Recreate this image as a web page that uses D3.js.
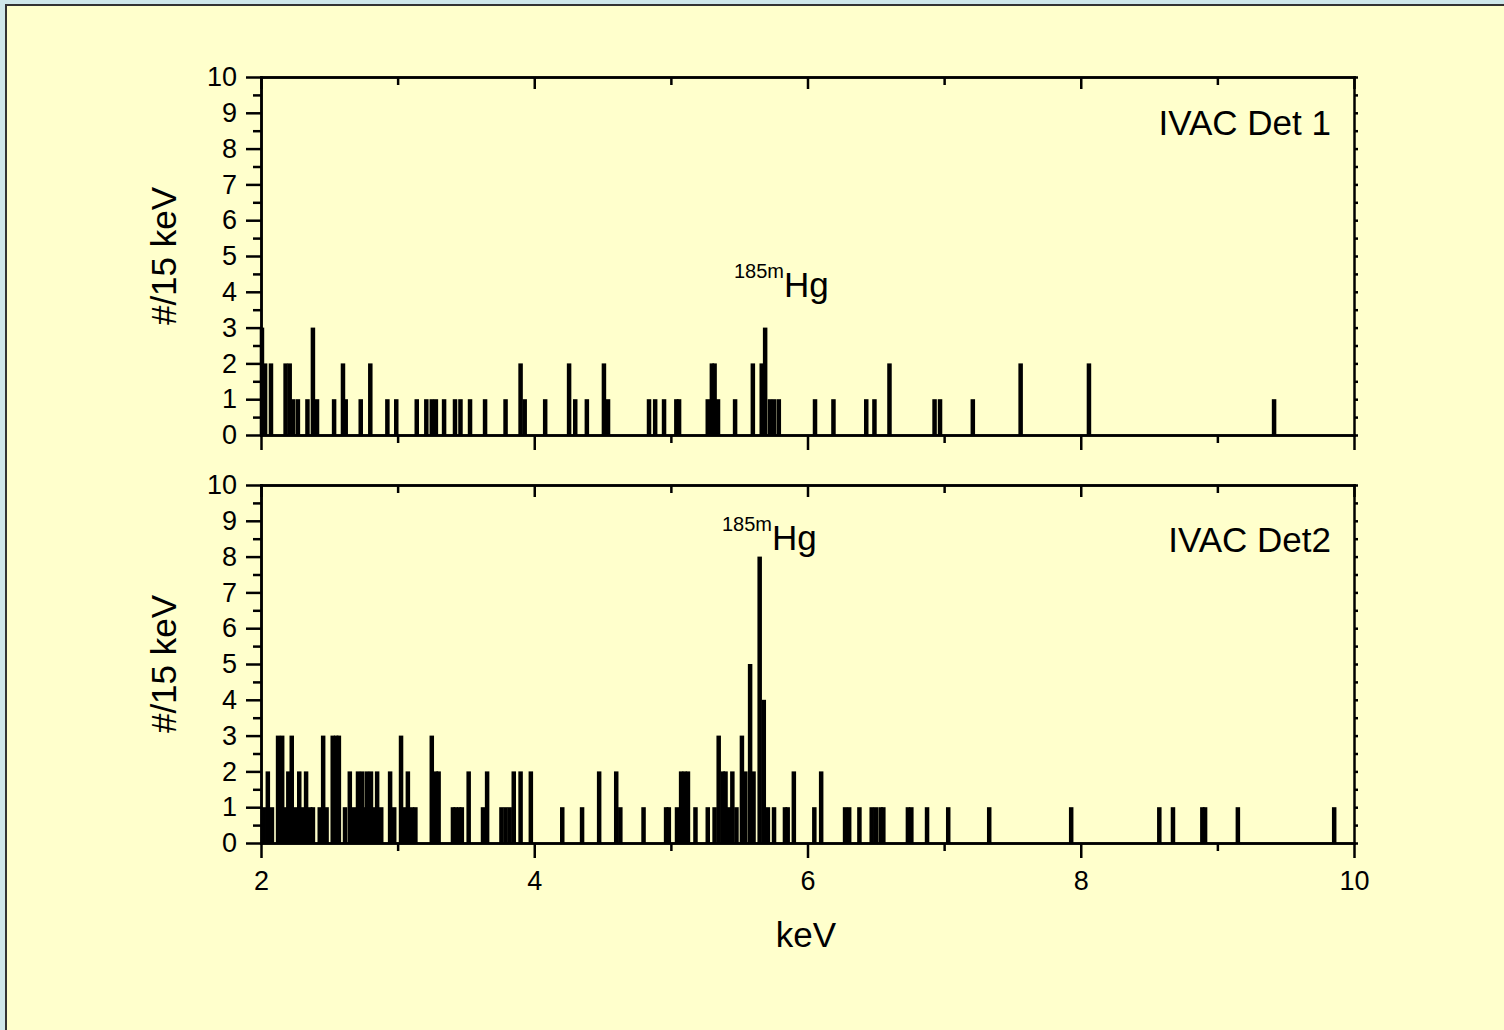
<!DOCTYPE html>
<html>
<head>
<meta charset="utf-8">
<script src="https://cdn.jsdelivr.net/npm/d3@7"></script>
<style>
  body { margin: 0; background: #cfe7ea; }
  svg { display: block; font-family: "Liberation Sans", Arial, sans-serif; }
  .axis path, .axis line { stroke: #000; stroke-width: 2.5; }
  .axis text { font-size: 27px; fill: #000; }
</style>
</head>
<body>
<div id="wrapper"></div>
<script>
'use strict';

// IVAC Det 1: bin centre (keV) and counts per 15 keV
const det1Kev = [2.007, 2.03, 2.073, 2.18, 2.21, 2.235, 2.27, 2.34, 2.38, 2.41, 2.535, 2.60, 2.62, 2.73, 2.80,
  2.925, 2.99, 3.14, 3.21, 3.25, 3.28, 3.34, 3.42, 3.46, 3.53, 3.64, 3.79, 3.90, 3.93, 4.08, 4.255, 4.30,
  4.385, 4.51, 4.54, 4.84, 4.885, 4.95, 5.04, 5.06, 5.27, 5.30, 5.32, 5.345, 5.47, 5.60, 5.665, 5.69, 5.725,
  5.755, 5.79, 6.055, 6.19, 6.43, 6.49, 6.60, 6.93, 6.97, 7.21, 7.56, 8.06, 9.415];
const det1Counts = [3, 2, 2, 2, 2, 1, 1, 1, 3, 1, 1, 2, 1, 1, 2,
  1, 1, 1, 1, 1, 1, 1, 1, 1, 1, 1, 1, 2, 1, 1, 2, 1,
  1, 2, 1, 1, 1, 1, 1, 1, 1, 2, 2, 1, 1, 2, 2, 3, 1,
  1, 1, 1, 1, 1, 1, 2, 1, 1, 1, 2, 2, 1];

// IVAC Det2
const det2Kev = [2.02, 2.05, 2.08, 2.125, 2.155, 2.175, 2.20, 2.225, 2.25, 2.28, 2.30, 2.33, 2.36, 2.38, 2.43,
  2.455, 2.48, 2.525, 2.55, 2.57, 2.615, 2.65, 2.68, 2.71, 2.74, 2.755, 2.775, 2.805, 2.83, 2.85, 2.88,
  2.945, 2.975, 3.025, 3.05, 3.075, 3.105, 3.13, 3.25, 3.28, 3.30, 3.405, 3.425, 3.45, 3.47, 3.52, 3.625,
  3.655, 3.76, 3.79, 3.82, 3.85, 3.90, 3.975, 4.205, 4.35, 4.475, 4.60, 4.63, 4.80, 4.965, 4.985, 5.045,
  5.075, 5.10, 5.125, 5.18, 5.27, 5.32, 5.35, 5.38, 5.40, 5.425, 5.45, 5.48, 5.52, 5.545, 5.58, 5.605,
  5.65, 5.68, 5.71, 5.755, 5.835, 5.855, 5.90, 6.05, 6.10, 6.275, 6.305, 6.38, 6.47, 6.50, 6.535, 6.555,
  6.735, 6.76, 6.875, 7.03, 7.33, 7.93, 8.575, 8.675, 8.89, 8.91, 9.15, 9.855];
const det2Counts = [1, 2, 1, 3, 3, 1, 2, 3, 1, 2, 1, 2, 1, 1, 1,
  3, 1, 3, 3, 3, 1, 2, 1, 2, 2, 1, 2, 2, 1, 2, 1,
  2, 1, 3, 1, 2, 1, 1, 3, 2, 2, 1, 1, 1, 1, 2, 1,
  2, 1, 1, 1, 2, 2, 2, 1, 1, 2, 2, 1, 1, 1, 1, 1,
  2, 2, 2, 1, 1, 1, 3, 2, 2, 1, 2, 1, 3, 2, 5, 2,
  8, 4, 1, 1, 1, 1, 2, 1, 2, 1, 1, 1, 1, 1, 1, 1,
  1, 1, 1, 1, 1, 1, 1, 1, 1, 1, 1, 1];

const xMajorTicks = [2, 4, 6, 8, 10];
const xMinorTicks = [3, 5, 7, 9];
const yMajorTicks = [0, 1, 2, 3, 4, 5, 6, 7, 8, 9, 10];
const yMinorTicks = [0.5, 1.5, 2.5, 3.5, 4.5, 5.5, 6.5, 7.5, 8.5, 9.5];

const panelLabels = ['IVAC Det 1', 'IVAC Det2'];

function drawChart () {
  //#region CHART DIMENSIONS
  const dimensions = {
    width: 1504,
    height: 1030,
    plotLeft: 261,
    plotRight: 1354,
    panelHeight: 358,
    panelTops: [77, 485]
  };
  const barWidth = 4.5;
  //#endregion

  //#region DRAW CANVAS
  const svg = d3.select('#wrapper').append('svg')
    .attr('width', dimensions.width)
    .attr('height', dimensions.height);

  svg.append('rect')
    .attr('x', 6).attr('y', 5)
    .attr('width', dimensions.width).attr('height', dimensions.height)
    .attr('fill', '#ffffcc')
    .attr('stroke', '#333')
    .attr('stroke-width', 2);
  //#endregion

  //#region SCALES
  const xScale = d3.scaleLinear()
    .domain([2, 10])
    .range([dimensions.plotLeft, dimensions.plotRight]);
  //#endregion

  const panels = [
    { kev: det1Kev, counts: det1Counts },
    { kev: det2Kev, counts: det2Counts }
  ];

  panels.forEach((p, i) => {
    const top = dimensions.panelTops[i];
    const bottom = top + dimensions.panelHeight;
    const yScale = d3.scaleLinear().domain([0, 10]).range([bottom, top]);
    const g = svg.append('g');
    const data = p.kev.map((k, j) => ({ k, c: p.counts[j] }));

    // bars
    g.append('g').selectAll('rect').data(data).enter()
      .append('rect')
      .attr('x', d => xScale(d.k) - barWidth / 2)
      .attr('y', d => yScale(d.c))
      .attr('width', barWidth)
      .attr('height', d => yScale(0) - yScale(d.c))
      .attr('fill', '#000');

    // left axis
    g.append('g').attr('class', 'axis')
      .attr('transform', `translate(${dimensions.plotLeft},0)`)
      .call(d3.axisLeft(yScale).tickValues(yMinorTicks).tickSize(8).tickSizeOuter(0).tickFormat(''));
    g.append('g').attr('class', 'axis')
      .attr('transform', `translate(${dimensions.plotLeft},0)`)
      .call(d3.axisLeft(yScale).tickValues(yMajorTicks).tickSize(15).tickSizeOuter(0).tickPadding(9).tickFormat(d3.format('d')));

    // right axis
    g.append('g').attr('class', 'axis')
      .attr('transform', `translate(${dimensions.plotRight},0)`)
      .call(d3.axisRight(yScale).tickValues(yMajorTicks.concat(yMinorTicks)).tickSize(4).tickSizeOuter(0).tickFormat(''));

    // top axis (ticks inward)
    g.append('g').attr('class', 'axis')
      .attr('transform', `translate(0,${top})`)
      .call(d3.axisBottom(xScale).tickValues(xMinorTicks).tickSize(8).tickSizeOuter(0).tickFormat(''));
    g.append('g').attr('class', 'axis')
      .attr('transform', `translate(0,${top})`)
      .call(d3.axisBottom(xScale).tickValues(xMajorTicks).tickSize(12).tickSizeOuter(0).tickFormat(''));

    // bottom axis
    g.append('g').attr('class', 'axis')
      .attr('transform', `translate(0,${bottom})`)
      .call(d3.axisBottom(xScale).tickValues(xMinorTicks).tickSize(8).tickSizeOuter(0).tickFormat(''));
    g.append('g').attr('class', 'axis')
      .attr('transform', `translate(0,${bottom})`)
      .call(d3.axisBottom(xScale).tickValues(xMajorTicks).tickSize(15).tickSizeOuter(0).tickPadding(13)
        .tickFormat(i === 1 ? d3.format('d') : ''));

    g.selectAll('.axis .domain').attr('stroke-linecap', 'square');

    // y title
    g.append('text')
      .attr('transform', `translate(176,${(top + bottom) / 2}) rotate(-90)`)
      .attr('text-anchor', 'middle')
      .style('font-size', '35px')
      .text('#/15 keV');

    // panel label
    g.append('text')
      .attr('x', 1331)
      .attr('y', top + (i === 0 ? 58 : 67))
      .attr('text-anchor', 'end')
      .style('font-size', '35px')
      .text(panelLabels[i]);
  });

  // 185mHg annotations
  const notes = [{ x: 734, y: 297 }, { x: 722, y: 550 }];
  notes.forEach(n => {
    const t = svg.append('text').attr('x', n.x).attr('y', n.y);
    t.append('tspan').attr('dy', -19).style('font-size', '20px').text('185m');
    t.append('tspan').attr('dy', 19).style('font-size', '35px').text('Hg');
  });

  // x title
  svg.append('text')
    .attr('x', 806)
    .attr('y', 947)
    .attr('text-anchor', 'middle')
    .style('font-size', '35px')
    .text('keV');
}

drawChart();
</script>
</body>
</html>
